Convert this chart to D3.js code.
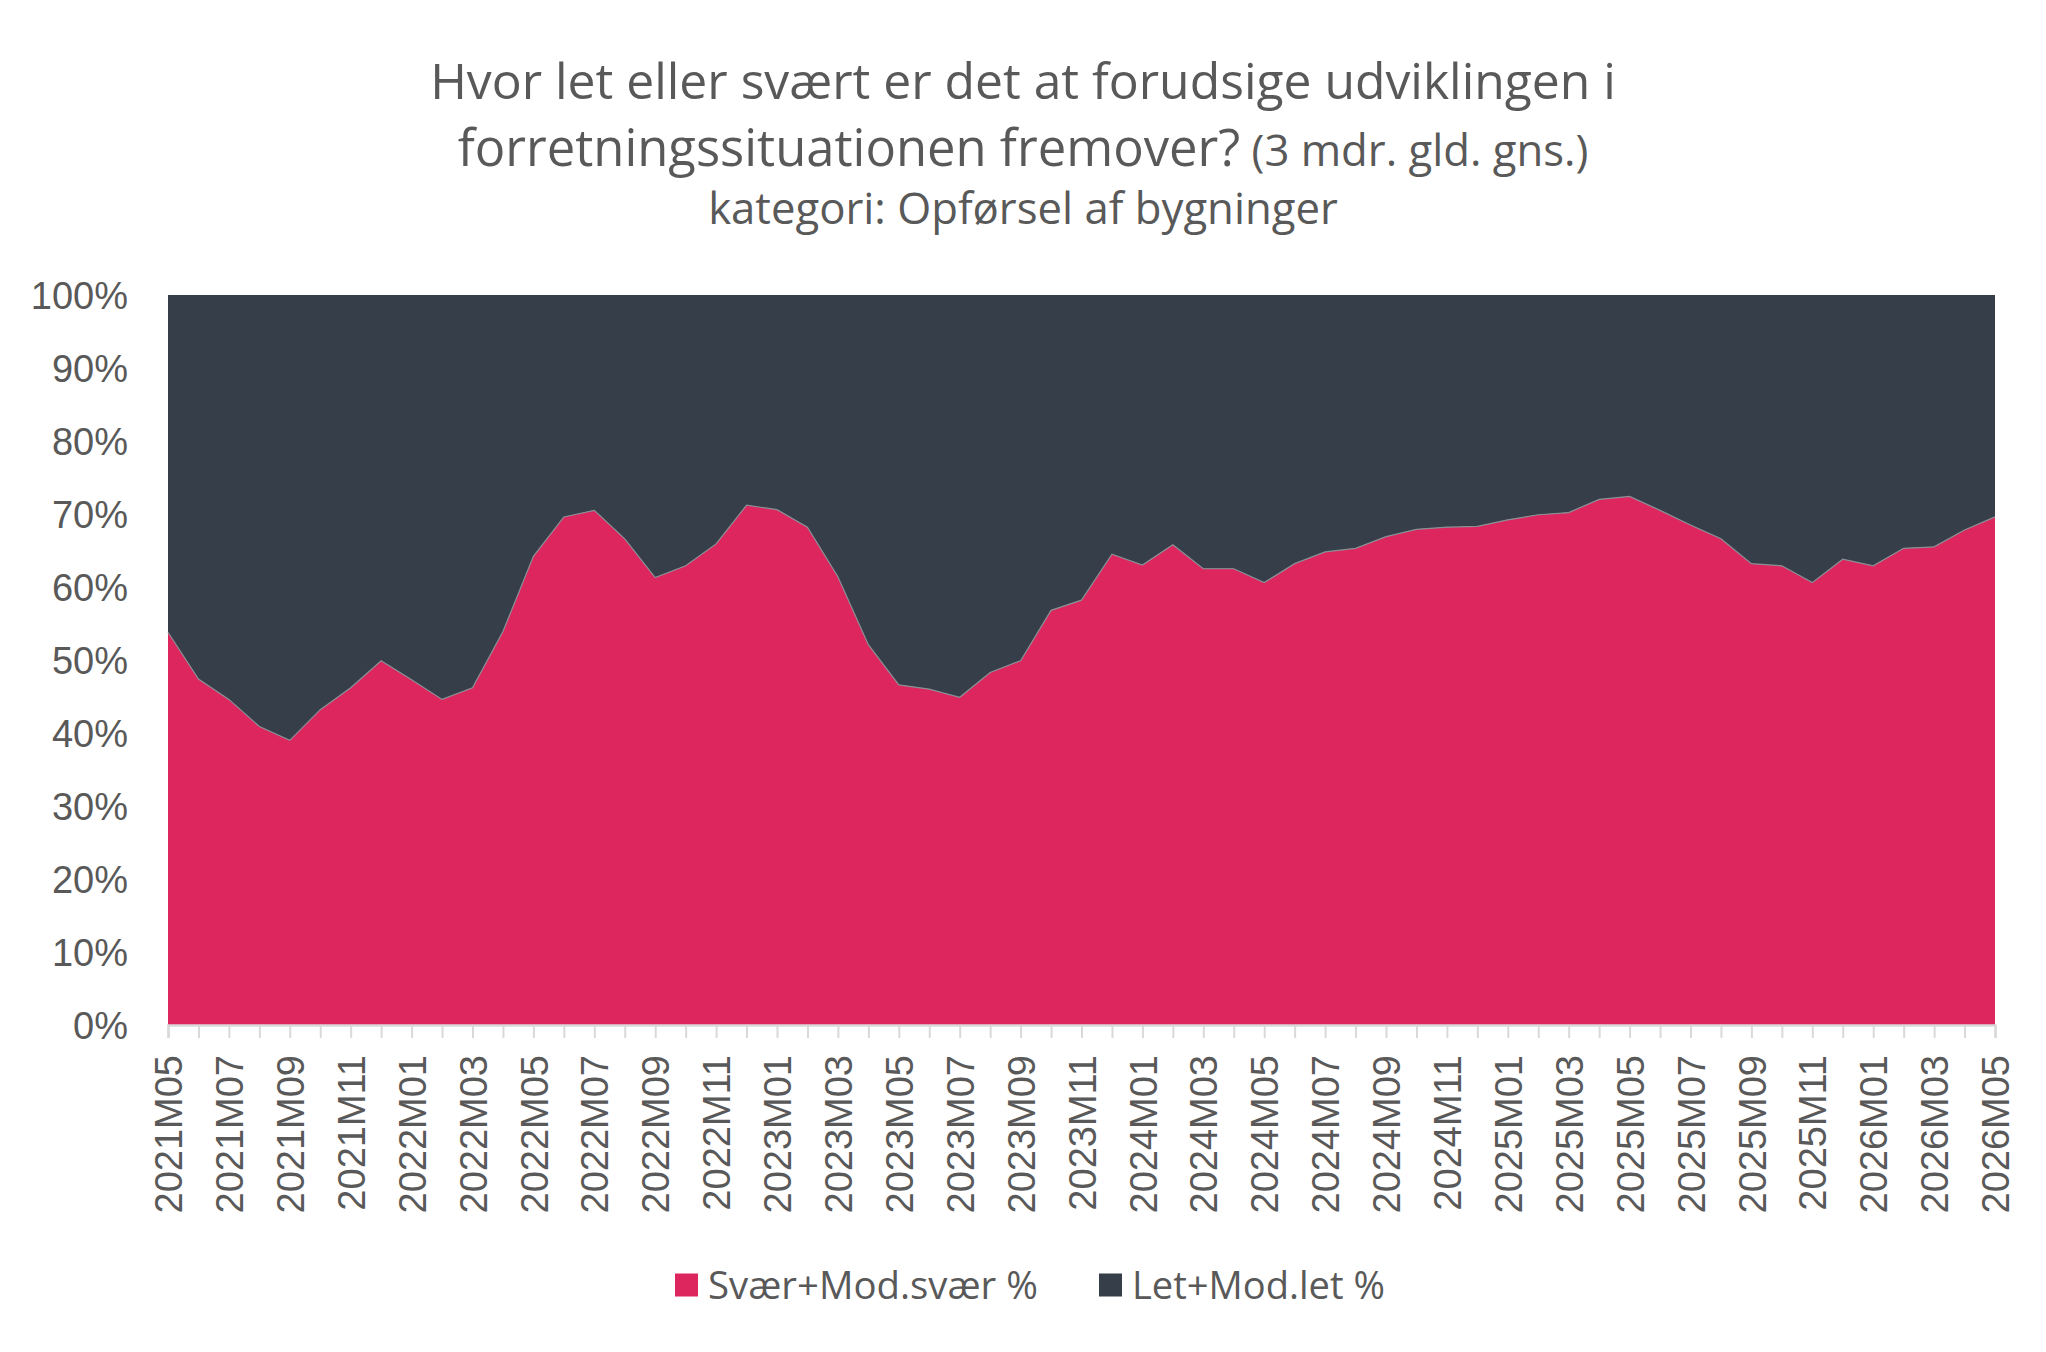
<!DOCTYPE html>
<html>
<head>
<meta charset="utf-8">
<script src="https://cdn.jsdelivr.net/npm/d3@7"></script>
<style>
  html, body { margin: 0; padding: 0; background: #ffffff; }
  svg { display: block; }
</style>
</head>
<body>
<script>
// ---------- DATA ----------
const months = [
  "2021M05","2021M06","2021M07","2021M08","2021M09","2021M10","2021M11","2021M12",
  "2022M01","2022M02","2022M03","2022M04","2022M05","2022M06","2022M07","2022M08","2022M09","2022M10","2022M11","2022M12",
  "2023M01","2023M02","2023M03","2023M04","2023M05","2023M06","2023M07","2023M08","2023M09","2023M10","2023M11","2023M12",
  "2024M01","2024M02","2024M03","2024M04","2024M05","2024M06","2024M07","2024M08","2024M09","2024M10","2024M11","2024M12",
  "2025M01","2025M02","2025M03","2025M04","2025M05","2025M06","2025M07","2025M08","2025M09","2025M10","2025M11","2025M12",
  "2026M01","2026M02","2026M03","2026M04","2026M05"
];
const svaerValues = [
  53.8, 47.4, 44.6, 40.9, 39.0, 43.2, 46.2, 49.9,
  47.3, 44.6, 46.2, 53.9, 64.2, 69.6, 70.5, 66.6, 61.3, 62.9, 65.9, 71.2,
  70.6, 68.2, 61.4, 52.1, 46.6, 46.0, 44.9, 48.3, 49.9, 56.8, 58.2, 64.5,
  63.0, 65.8, 62.5, 62.5, 60.6, 63.2, 64.8, 65.3, 66.9, 67.9, 68.2, 68.3,
  69.2, 69.9, 70.2, 72.0, 72.4, 70.5, 68.5, 66.6, 63.2, 62.9, 60.6, 63.8,
  62.9, 65.3, 65.5, 67.8, 69.6
];
const letValues = [
  46.2, 52.6, 55.4, 59.1, 61.0, 56.8, 53.8, 50.1,
  52.7, 55.4, 53.8, 46.1, 35.8, 30.4, 29.5, 33.4, 38.7, 37.1, 34.1, 28.8,
  29.4, 31.8, 38.6, 47.9, 53.4, 54.0, 55.1, 51.7, 50.1, 43.2, 41.8, 35.5,
  37.0, 34.2, 37.5, 37.5, 39.4, 36.8, 35.2, 34.7, 33.1, 32.1, 31.8, 31.7,
  30.8, 30.1, 29.8, 28.0, 27.6, 29.5, 31.5, 33.4, 36.8, 37.1, 39.4, 36.2,
  37.1, 34.7, 34.5, 32.2, 30.4
];
const seriesNames = ["Svær+Mod.svær %", "Let+Mod.let %"];
const seriesColors = ["#DE265E", "#353E49"];
const yTicks = [0, 0.1, 0.2, 0.3, 0.4, 0.5, 0.6, 0.7, 0.8, 0.9, 1.0];
const xTickLabels = months.filter((m, i) => i % 2 === 0);
const titleLine1 = "Hvor let eller svært er det at forudsige udviklingen i";
const titleLine2 = "forretningssituationen fremover?";
const titleLine2Small = " (3 mdr. gld. gns.)";
const subtitle = "kategori: Opførsel af bygninger";

// ---------- LAYOUT ----------
const W = 2046, H = 1352;
const margin = { left: 168, right: W - 1995, top: 295, bottom: H - 1025 };
const textColor = "#595959";
const titleFont = "'Open Sans', 'Noto Sans', sans-serif";
const axisFont = "'Liberation Sans', Arial, sans-serif";

const svg = d3.select("body").append("svg").attr("width", W).attr("height", H);

const table = months.map((m, i) => ({ month: m, s: svaerValues[i], l: letValues[i] }));
const stack = d3.stack().keys(["s", "l"]).offset(d3.stackOffsetExpand);
const stacked = stack(table);

const x = d3.scalePoint().domain(months).range([margin.left, W - margin.right]);
const y = d3.scaleLinear().domain([0, 1]).range([H - margin.bottom, margin.top]);

const area = d3.area()
  .x(d => x(d.data.month))
  .y0(d => y(d[0]))
  .y1(d => y(d[1]));

svg.append("g").selectAll("path")
  .data(stacked)
  .join("path")
  .attr("d", area)
  .attr("fill", (d, i) => seriesColors[i]);

// boundary line between series
const boundary = d3.line().x(d => x(d.data.month)).y(d => y(d[1]));
svg.append("path")
  .attr("d", boundary(stacked[0]))
  .attr("fill", "none")
  .attr("stroke", "#8a8d94")
  .attr("stroke-width", 1.2);

// x axis
const xAxis = d3.axisBottom(x).tickSize(13).tickFormat(d => (xTickLabels.includes(d) ? d : ""));
const gx = svg.append("g").attr("transform", `translate(0,${H - margin.bottom})`).call(xAxis);
gx.select(".domain").attr("stroke", "#D9D9D9").attr("stroke-width", 2.5);
gx.selectAll(".tick line").attr("stroke", "#D9D9D9").attr("stroke-width", 2);
gx.selectAll(".tick text")
  .attr("font-family", axisFont)
  .attr("font-size", 38)
  .attr("fill", textColor)
  .attr("text-anchor", "end")
  .attr("transform", "rotate(-90)")
  .attr("x", -30)
  .attr("y", 0)
  .attr("dy", "0.36em");

// y axis
const yAxis = d3.axisLeft(y).tickValues(yTicks).tickSize(0).tickPadding(0).tickFormat(d3.format(".0%"));
const gy = svg.append("g").attr("transform", `translate(128,0)`).call(yAxis);
gy.select(".domain").remove();
gy.selectAll(".tick text")
  .attr("font-family", axisFont)
  .attr("font-size", 38)
  .attr("fill", textColor)
  .attr("x", 0)
  .attr("dy", "0.36em");

// ---------- TITLE ----------
function fitWidth(sel, target) {
  const w = sel.node().getComputedTextLength();
  const fs = parseFloat(sel.attr("font-size"));
  sel.attr("font-size", fs * target / w);
}
const cx = W / 2;
const t1 = svg.append("text").attr("x", cx).attr("y", 99).attr("text-anchor", "middle")
  .attr("font-family", titleFont).attr("font-size", 40).attr("fill", textColor).text(titleLine1);
fitWidth(t1, 1186);

const t2 = svg.append("text").attr("x", cx).attr("y", 166).attr("text-anchor", "middle")
  .attr("font-family", titleFont).attr("fill", textColor);
const smallRatio = 0.86;
const t2a = t2.append("tspan").attr("font-size", 40).text(titleLine2);
const t2b = t2.append("tspan").attr("font-size", 40 * smallRatio).text(titleLine2Small);
{
  const w = t2.node().getComputedTextLength();
  const k = 1131 / w;
  t2a.attr("font-size", 40 * k);
  t2b.attr("font-size", 40 * smallRatio * k);
}

const t3 = svg.append("text").attr("x", cx).attr("y", 224).attr("text-anchor", "middle")
  .attr("font-family", titleFont).attr("font-size", 34).attr("fill", textColor).text(subtitle);
fitWidth(t3, 630);

// ---------- LEGEND ----------
const legendY = 1285;
const legendItems = [
  { name: seriesNames[0], color: seriesColors[0], sx: 675, tw: 330 },
  { name: seriesNames[1], color: seriesColors[1], sx: 1099, tw: 253 }
];
legendItems.forEach(it => {
  svg.append("rect").attr("x", it.sx).attr("y", legendY - 11.5).attr("width", 23).attr("height", 23).attr("fill", it.color);
  const t = svg.append("text").attr("x", it.sx + 33).attr("y", legendY).attr("dy", "0.36em")
    .attr("font-family", titleFont).attr("font-size", 36).attr("fill", textColor).text(it.name);
  fitWidth(t, it.tw);
});
</script>
</body>
</html>
